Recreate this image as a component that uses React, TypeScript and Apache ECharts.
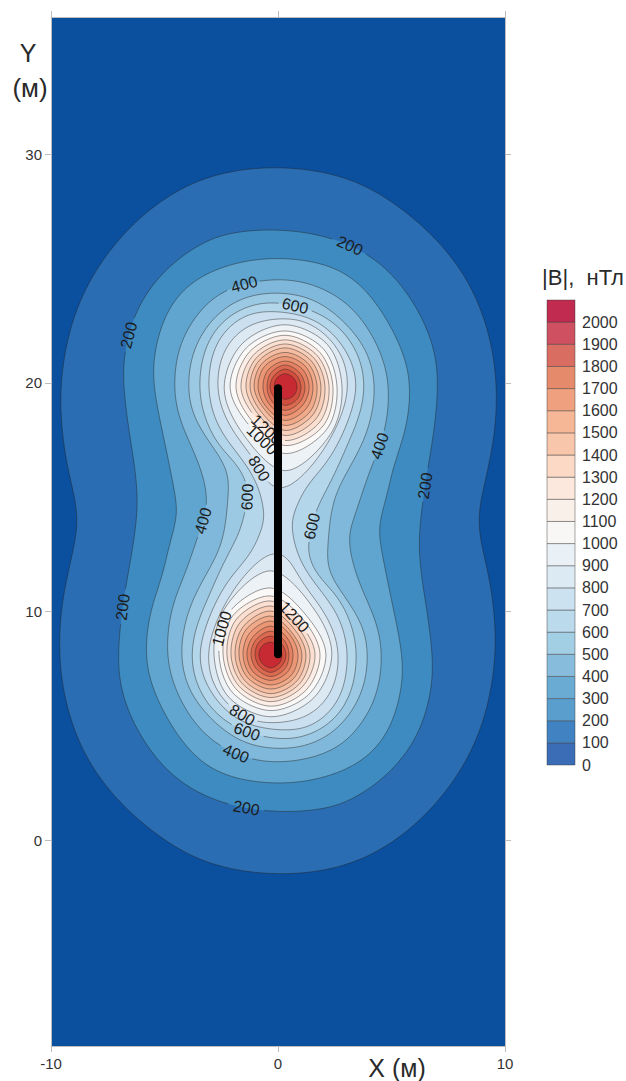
import React, { useEffect, useRef } from "react";
import * as echarts from "echarts";

type P = number[];

const xTicks = [-10, 0, 10];
const yTicks = [0, 10, 20, 30];
const colorbarTicks = [0, 100, 200, 300, 400, 500, 600, 700, 800, 900, 1000, 1100, 1200, 1300, 1400, 1500, 1600, 1700, 1800, 1900, 2000];

const mapColors = ["#0B4F9F", "#2A6DB2", "#3D8BC1", "#5FA5CF", "#7FB8DA", "#9BC8E2", "#B3D6EA", "#CADFEF", "#DCE9F3", "#EDF2F7", "#FAF9F8", "#FCEEE6", "#FBE0D2", "#F8CFBA", "#F5BDA2", "#F0AA8A", "#EB9675", "#E48263", "#DB6A50", "#D14E3F", "#C82A33"];
const barColors = ["#3A6DB6", "#4182C2", "#5A9ECE", "#6AABD3", "#88BCDC", "#A3CFE5", "#BBDAEC", "#CDE2F0", "#DCEAF4", "#EAF1F6", "#F8F7F6", "#FAF0EA", "#FCE8DC", "#FBD9C5", "#F8C6AB", "#F5B796", "#EEA07F", "#E58A6B", "#DA6D62", "#CF5060", "#C22B50"];

const wire: P[] = [[0, 8.13], [0, 19.76]];

const contour100: P[] = [[8.81, 13.99], [9.03, 15.31], [9.43, 17.05], [9.65, 19.02], [9.51, 21.21], [8.9, 23.4], [7.8, 25.36], [6.12, 27.11], [3.92, 28.64], [1.85, 29.26], [-0.04, 29.43], [-1.89, 29.3], [-3.88, 28.73], [-5.86, 27.46], [-7.62, 25.58], [-8.85, 23.4], [-9.47, 20.99], [-9.6, 18.8], [-9.34, 16.62], [-9.03, 15.31], [-8.81, 13.99], [-9.03, 12.63], [-9.43, 10.89], [-9.65, 8.92], [-9.51, 6.73], [-8.9, 4.54], [-7.8, 2.58], [-6.12, 0.83], [-3.92, -0.7], [-1.85, -1.32], [0.04, -1.49], [1.89, -1.36], [3.88, -0.79], [5.86, 0.48], [7.62, 2.36], [8.85, 4.54], [9.47, 6.95], [9.6, 9.14], [9.34, 11.32], [9.03, 12.63]];
const contour200: P[] = [[6.26, 13.99], [6.61, 16.31], [6.83, 17.62], [7.05, 19.68], [6.92, 21.43], [6.12, 23.31], [4.63, 25.23], [2.42, 26.37], [-0.04, 26.72], [-1.89, 26.59], [-3.13, 26.24], [-4.89, 25.06], [-6.21, 23.31], [-6.74, 21.43], [-6.83, 19.98], [-6.52, 17.62], [-6.21, 15.61], [-6.21, 13.99], [-6.61, 11.63], [-6.83, 10.32], [-7.05, 8.26], [-6.92, 6.51], [-6.12, 4.63], [-4.63, 2.71], [-2.42, 1.57], [0.04, 1.22], [1.89, 1.35], [3.13, 1.7], [4.89, 2.88], [6.21, 4.63], [6.74, 6.51], [6.83, 7.96], [6.52, 10.32], [6.21, 12.33]];
const contour300: P[] = [[4.54, 14.17], [4.85, 15.26], [5.07, 16.31], [5.59, 17.8], [5.81, 19.24], [5.73, 20.68], [5.07, 22.3], [3.92, 24.05], [2.42, 25.14], [-0.04, 25.49], [-1.98, 25.23], [-3.74, 24.49], [-4.89, 23.18], [-5.42, 21.43], [-5.51, 19.98], [-5.07, 17.8], [-4.63, 15.61], [-4.45, 14.56], [-4.54, 13.77], [-4.85, 12.68], [-5.07, 11.63], [-5.59, 10.14], [-5.81, 8.7], [-5.73, 7.26], [-5.07, 5.64], [-3.92, 3.89], [-2.42, 2.8], [0.04, 2.45], [1.98, 2.71], [3.74, 3.45], [4.89, 4.76], [5.42, 6.51], [5.51, 7.96], [5.07, 10.14], [4.63, 12.33], [4.45, 13.38]];
const contour400: P[] = [[3.3, 13.95], [3.61, 14.87], [4.05, 16.18], [4.49, 17.23], [4.8, 18.37], [4.89, 20.12], [4.36, 21.73], [3.3, 23.31], [1.72, 24.27], [-0.04, 24.58], [-2.25, 24.14], [-3.44, 23.18], [-4.32, 21.73], [-4.58, 20.12], [-4.41, 18.5], [-3.57, 16.75], [-3.08, 15.0], [-3.3, 13.95], [-3.61, 13.07], [-4.05, 11.76], [-4.49, 10.71], [-4.8, 9.57], [-4.89, 7.82], [-4.36, 6.21], [-3.3, 4.63], [-1.72, 3.67], [0.04, 3.36], [2.25, 3.8], [3.44, 4.76], [4.32, 6.21], [4.58, 7.82], [4.41, 9.44], [3.57, 11.19], [3.08, 13.07]];
const contour500: P[] = [[2.29, 13.99], [2.5, 15.0], [2.95, 15.96], [3.7, 17.27], [4.14, 18.59], [4.27, 19.98], [3.92, 21.43], [2.86, 22.74], [1.54, 23.7], [-0.04, 23.96], [-1.54, 23.75], [-2.86, 22.87], [-3.74, 21.43], [-3.96, 19.98], [-3.79, 18.67], [-3.0, 17.36], [-2.2, 16.18], [-2.2, 15.09], [-2.29, 13.99], [-2.5, 12.94], [-2.95, 11.98], [-3.7, 10.67], [-4.14, 9.35], [-4.27, 7.96], [-3.92, 6.51], [-2.86, 5.2], [-1.54, 4.24], [0.04, 3.98], [1.54, 4.19], [2.86, 5.07], [3.74, 6.51], [3.96, 7.96], [3.79, 9.27], [3.0, 10.58], [2.2, 11.76], [2.2, 12.85]];
const contour600: P[] = [[1.32, 12.9], [1.5, 13.73], [1.72, 14.56], [2.42, 15.83], [3.04, 17.27], [3.61, 18.59], [3.83, 19.98], [3.52, 21.3], [2.73, 22.43], [1.54, 23.18], [-0.04, 23.53], [-1.23, 23.4], [-2.42, 22.74], [-3.22, 21.56], [-3.48, 19.98], [-3.3, 18.67], [-2.69, 17.36], [-1.98, 16.62], [-1.45, 15.83], [-1.32, 15.0], [-1.5, 14.21], [-1.72, 13.38], [-2.42, 12.11], [-3.04, 10.67], [-3.61, 9.35], [-3.83, 7.96], [-3.52, 6.64], [-2.73, 5.51], [-1.54, 4.76], [0.04, 4.41], [1.23, 4.54], [2.42, 5.2], [3.22, 6.38], [3.48, 7.96], [3.3, 9.27], [2.69, 10.58], [1.98, 11.32], [1.45, 12.11]];
const contour700: P[] = [[0.62, 13.99], [0.84, 14.65], [1.28, 15.52], [2.07, 16.4], [2.73, 17.49], [3.26, 18.8], [3.48, 19.98], [3.17, 21.12], [2.42, 22.17], [1.41, 22.87], [-0.04, 23.13], [-1.23, 23.05], [-2.2, 22.43], [-2.86, 21.43], [-3.08, 19.98], [-2.91, 18.8], [-2.42, 17.71], [-1.54, 16.62], [-0.93, 15.61], [-0.66, 14.65], [-0.62, 13.99], [-0.84, 13.29], [-1.28, 12.42], [-2.07, 11.54], [-2.73, 10.45], [-3.26, 9.14], [-3.48, 7.96], [-3.17, 6.82], [-2.42, 5.77], [-1.41, 5.07], [0.04, 4.81], [1.23, 4.89], [2.2, 5.51], [2.86, 6.51], [3.08, 7.96], [2.91, 9.14], [2.42, 10.23], [1.54, 11.32], [0.93, 12.33], [0.66, 13.29]];
const contour800Upper: P[] = [[0.22, 15.35], [-0.44, 15.57], [-1.01, 16.62], [-1.81, 17.62], [-2.47, 18.8], [-2.69, 19.98], [-2.47, 21.21], [-1.89, 22.08], [-1.01, 22.65], [0.31, 22.83], [1.32, 22.65], [2.29, 21.95], [2.91, 20.99], [3.08, 19.98], [2.95, 19.02], [2.47, 17.84], [1.76, 16.7], [0.97, 15.83]];
const contour800Lower: P[] = [[-0.22, 12.59], [0.44, 12.37], [1.01, 11.32], [1.81, 10.32], [2.47, 9.14], [2.69, 7.96], [2.47, 6.73], [1.89, 5.86], [1.01, 5.29], [-0.31, 5.11], [-1.32, 5.29], [-2.29, 5.99], [-2.91, 6.95], [-3.08, 7.96], [-2.95, 8.92], [-2.47, 10.1], [-1.76, 11.24], [-0.97, 12.11]];

// Closed lobes, read as distances (m) from each peak at E, NE, N, NW, W, SW, S, SE
const upperPeak = [0.31, 19.81];
const lowerPeak = [-0.31, 8.13];
const lobeLevels = [900, 1000, 1100, 1200, 1300, 1400, 1500, 1600, 1700, 1800, 1900, 2000];
const upperLobeRadii: number[][] = [
  [2.51, 2.64, 2.73, 2.68, 2.68, 2.73, 3.65, 2.86],
  [2.29, 2.38, 2.46, 2.42, 2.42, 2.29, 2.9, 2.6],
  [2.11, 2.16, 2.27, 2.2, 2.16, 2.07, 2.55, 2.38],
  [1.94, 1.98, 2.07, 1.98, 1.94, 1.85, 2.33, 2.16],
  [1.76, 1.8, 1.89, 1.8, 1.72, 1.67, 2.11, 1.94],
  [1.58, 1.63, 1.72, 1.63, 1.54, 1.5, 1.89, 1.72],
  [1.41, 1.45, 1.52, 1.45, 1.36, 1.32, 1.67, 1.54],
  [1.23, 1.28, 1.34, 1.28, 1.19, 1.19, 1.45, 1.32],
  [1.06, 1.1, 1.14, 1.06, 0.97, 1.01, 1.23, 1.1],
  [0.88, 0.9, 0.97, 0.88, 0.79, 0.84, 1.01, 0.92],
  [0.7, 0.73, 0.79, 0.7, 0.66, 0.66, 0.79, 0.75],
  [0.53, 0.55, 0.59, 0.53, 0.48, 0.48, 0.53, 0.53],
];
const lowerLobeRadii: number[][] = [
  [2.68, 2.73, 3.65, 2.86, 2.51, 2.64, 2.73, 2.68],
  [2.42, 2.29, 2.9, 2.6, 2.29, 2.38, 2.46, 2.42],
  [2.16, 2.07, 2.55, 2.38, 2.11, 2.16, 2.27, 2.2],
  [1.94, 1.85, 2.33, 2.16, 1.94, 1.98, 2.07, 1.98],
  [1.72, 1.67, 2.11, 1.94, 1.76, 1.8, 1.89, 1.8],
  [1.54, 1.5, 1.89, 1.72, 1.58, 1.63, 1.72, 1.63],
  [1.36, 1.32, 1.67, 1.54, 1.41, 1.45, 1.52, 1.45],
  [1.19, 1.19, 1.45, 1.32, 1.23, 1.28, 1.34, 1.28],
  [0.97, 1.01, 1.23, 1.1, 1.06, 1.1, 1.14, 1.06],
  [0.79, 0.84, 1.01, 0.92, 0.88, 0.9, 0.97, 0.88],
  [0.66, 0.66, 0.79, 0.75, 0.7, 0.73, 0.79, 0.7],
  [0.48, 0.48, 0.53, 0.53, 0.53, 0.55, 0.59, 0.53],
];

// level, x, y of each contour label
const contourLabels: number[][] = [
  [200, 3.17, 25.89], [400, -1.54, 24.27], [600, 0.75, 23.4], [200, -6.39, 22.0],
  [1200, -0.35, 18.1], [1000, -0.62, 17.49], [800, -0.66, 16.31], [400, -3.3, 13.99],
  [600, -1.37, 15.04], [400, 4.49, 17.23], [200, 6.56, 15.52], [600, 1.5, 13.73],
  [200, -6.92, 10.23], [1000, -2.33, 9.27], [1200, 0.5, 9.6], [800, -1.54, 5.6],
  [600, -1.41, 4.77], [400, -1.81, 3.72], [200, -1.32, 1.31],
];

const FONT = '"Liberation Sans", Arial, sans-serif';
const LABEL_SIZE = 16;
const TEXT = "#2a2a2a";
const AXIS = "#bdbdbd";

function lobe(center: number[], radii: number[]): P[] {
  return radii.map((r, i) => [center[0] + r * Math.cos((i * Math.PI) / 4), center[1] + r * Math.sin((i * Math.PI) / 4)]);
}

const polys: { level: number; pts: P[] }[] = [
  { level: 100, pts: contour100 }, { level: 200, pts: contour200 }, { level: 300, pts: contour300 },
  { level: 400, pts: contour400 }, { level: 500, pts: contour500 }, { level: 600, pts: contour600 },
  { level: 700, pts: contour700 }, { level: 800, pts: contour800Upper }, { level: 800, pts: contour800Lower },
];
lobeLevels.forEach((level, i) => {
  polys.push({ level, pts: lobe(upperPeak, upperLobeRadii[i]) });
  polys.push({ level, pts: lobe(lowerPeak, lowerLobeRadii[i]) });
});

// Centripetal smoothing of a closed ring on screen, so the read points draw as a curve.
function smoothRing(p: P[]): P[] {
  const out: P[] = [];
  const n = p.length;
  const steps = 12;
  const mix = (a: P, b: P, ta: number, tb: number, t: number): P => {
    const w = tb - ta < 1e-6 ? 0 : (t - ta) / (tb - ta);
    return [a[0] + (b[0] - a[0]) * w, a[1] + (b[1] - a[1]) * w];
  };
  const gap = (a: P, b: P) => Math.max(Math.sqrt(Math.hypot(a[0] - b[0], a[1] - b[1])), 1e-3);
  for (let i = 0; i < n; i++) {
    const p0 = p[(i - 1 + n) % n], p1 = p[i], p2 = p[(i + 1) % n], p3 = p[(i + 2) % n];
    const t0 = 0, t1 = t0 + gap(p0, p1), t2 = t1 + gap(p1, p2), t3 = t2 + gap(p2, p3);
    for (let s = 0; s < steps; s++) {
      const t = t1 + ((t2 - t1) * s) / steps;
      const a1 = mix(p0, p1, t0, t1, t), a2 = mix(p1, p2, t1, t2, t), a3 = mix(p2, p3, t2, t3, t);
      const b1 = mix(a1, a2, t0, t2, t), b2 = mix(a2, a3, t1, t3, t);
      out.push(mix(b1, b2, t1, t2, t));
    }
  }
  return out;
}

// Evens out the small wobble of hand-read points on the long rings.
function relax(ring: P[], reach: number, passes: number): P[] {
  let cur = ring;
  const n = ring.length;
  for (let pass = 0; pass < passes; pass++) {
    cur = cur.map((_, i) => {
      let sx = 0, sy = 0;
      for (let k = -reach; k <= reach; k++) {
        const q = cur[(i + k + n) % n];
        sx += q[0]; sy += q[1];
      }
      return [sx / (2 * reach + 1), sy / (2 * reach + 1)];
    });
  }
  return cur;
}

export default function App() {
  const ref = useRef<HTMLDivElement>(null);
  useEffect(() => {
    document.body.style.margin = "0";
    const chart = echarts.init(ref.current!, undefined, { renderer: "svg" });

    let dense: P[][] | null = null;
    let placed: { level: number; x: number; y: number; angle: number }[] = [];
    const prepare = (api: any) => {
      if (dense) return;
      dense = polys.map((poly) => {
        const ring = smoothRing(poly.pts.map((q) => api.coord(q)));
        return poly.pts.length >= 18 ? relax(ring, 6, 2) : ring;
      });
      placed = contourLabels.map(([level, lx, ly]) => {
        const target = api.coord([lx, ly]);
        let best = Infinity, bx = target[0], by = target[1], angle = 0;
        polys.forEach((poly, pi) => {
          if (poly.level !== level) return;
          const ring = dense![pi];
          ring.forEach((q, k) => {
            const d = (q[0] - target[0]) ** 2 + (q[1] - target[1]) ** 2;
            if (d < best) {
              best = d; bx = q[0]; by = q[1];
              const a = ring[(k - 3 + ring.length) % ring.length], c = ring[(k + 3) % ring.length];
              angle = Math.atan2(c[1] - a[1], c[0] - a[0]);
            }
          });
        });
        if (angle > Math.PI / 2) angle -= Math.PI;
        if (angle < -Math.PI / 2) angle += Math.PI;
        return { level, x: bx, y: by, angle };
      });
    };

    const hidden = (q: P, level: number) =>
      placed.some((l) => {
        if (l.level !== level) return false;
        const dx = q[0] - l.x, dy = q[1] - l.y;
        const u = dx * Math.cos(l.angle) + dy * Math.sin(l.angle);
        const v = -dx * Math.sin(l.angle) + dy * Math.cos(l.angle);
        const half = (String(l.level).length * LABEL_SIZE * 0.556) / 2 + 2;
        return Math.abs(u) < half && Math.abs(v) < 9;
      });

    const renderContour = (_: any, api: any) => {
      prepare(api);
      const i = api.value(2);
      const ring = dense![i];
      const level = polys[i].level;
      const children: any[] = [{ type: "polygon", silent: true, shape: { points: ring }, style: { fill: mapColors[level / 100], stroke: null } }];
      let seg: P[] = [];
      const flush = () => {
        if (seg.length > 1) children.push({ type: "polyline", silent: true, shape: { points: seg }, style: { stroke: "rgba(35,35,35,0.45)", lineWidth: 1, fill: null } });
        seg = [];
      };
      ring.concat([ring[0]]).forEach((q) => {
        if (hidden(q, level)) flush();
        else seg.push(q);
      });
      flush();
      return { type: "group", children };
    };

    const renderLabel = (_: any, api: any) => {
      prepare(api);
      const l = placed[api.value(2)];
      return {
        type: "text", silent: true, x: l.x, y: l.y, rotation: -l.angle,
        style: { text: String(l.level), align: "center", verticalAlign: "middle", fontSize: LABEL_SIZE, fontFamily: FONT, fill: "#1c1c1c" },
      };
    };

    const renderBand = (_: any, api: any) => {
      const lo = api.value(1);
      const a = api.coord([0, lo]), b = api.coord([1, lo + 100]);
      return {
        type: "rect", silent: true,
        shape: { x: a[0], y: b[1], width: b[0] - a[0], height: a[1] - b[1] },
        style: { fill: barColors[lo / 100], stroke: "rgba(60,60,60,0.45)", lineWidth: 1 },
      };
    };

    const axisLine = { show: true, onZero: false, lineStyle: { color: AXIS, width: 1 } };
    const axisTick = { show: true, length: 6, lineStyle: { color: AXIS, width: 1 } };
    const tickFont = { color: "#333", fontFamily: FONT, fontSize: 15 };

    chart.setOption({
      animation: false,
      backgroundColor: "#fff",
      grid: [
        { left: 51, top: 17, width: 454, height: 1029, show: true, backgroundColor: mapColors[0], borderWidth: 0 },
        { left: 547, top: 300, width: 28, height: 465 },
      ],
      xAxis: [
        { type: "value", gridIndex: 0, min: -10, max: 10, interval: 10, position: "bottom", axisLine, axisTick, splitLine: { show: false },
          axisLabel: { ...tickFont, margin: 10, customValues: xTicks } },
        { type: "value", gridIndex: 0, min: -10, max: 10, interval: 10, position: "top", axisLine, axisTick, splitLine: { show: false }, axisLabel: { show: false } },
        { type: "value", gridIndex: 1, min: 0, max: 1, show: false },
      ],
      yAxis: [
        { type: "value", gridIndex: 0, min: -9, max: 36, position: "left", axisLine, splitLine: { show: false },
          axisTick: { ...axisTick, customValues: yTicks }, axisLabel: { ...tickFont, margin: 9, customValues: yTicks } },
        { type: "value", gridIndex: 0, min: -9, max: 36, position: "right", axisLine, splitLine: { show: false },
          axisTick: { ...axisTick, customValues: yTicks }, axisLabel: { show: false } },
        { type: "value", gridIndex: 1, min: 0, max: 2100, position: "right", splitLine: { show: false }, axisLine: { show: false }, axisTick: { show: false },
          axisLabel: { color: "#333", fontFamily: FONT, fontSize: 16, margin: 7, customValues: colorbarTicks, formatter: (v: number) => String(v) } },
      ],
      series: [
        { type: "custom", xAxisIndex: 0, yAxisIndex: 0, z: 2, silent: true, renderItem: renderContour, encode: { x: 0, y: 1 },
          data: polys.map((_, i) => [0, 0, i]) },
        { type: "custom", xAxisIndex: 0, yAxisIndex: 0, z: 3, silent: true, renderItem: renderLabel, encode: { x: 0, y: 1 },
          data: contourLabels.map((_, i) => [0, 0, i]) },
        { type: "line", xAxisIndex: 0, yAxisIndex: 0, z: 4, silent: true, data: wire, symbol: "none", lineStyle: { color: "#000", width: 8, cap: "round" } },
        { type: "custom", xAxisIndex: 2, yAxisIndex: 2, z: 2, silent: true, renderItem: renderBand, encode: { x: 0, y: 1 },
          data: colorbarTicks.map((lo) => [0, lo]) },
      ],
      graphic: [
        { type: "text", x: 28, y: 53, style: { text: "Y", align: "center", verticalAlign: "middle", fontSize: 25, fontFamily: FONT, fill: TEXT } },
        { type: "text", x: 30, y: 88, style: { text: "(м)", align: "center", verticalAlign: "middle", fontSize: 26, fontFamily: FONT, fill: TEXT } },
        { type: "text", x: 397, y: 1068, style: { text: "X (м)", align: "center", verticalAlign: "middle", fontSize: 25, fontFamily: FONT, fill: TEXT } },
        { type: "text", x: 583, y: 277, style: { text: "|B|,  нТл", align: "center", verticalAlign: "middle", fontSize: 22, fontFamily: FONT, fill: TEXT } },
      ],
    });
    return () => chart.dispose();
  }, []);
  return <div ref={ref} style={{ width: 626, height: 1081 }} />;
}
